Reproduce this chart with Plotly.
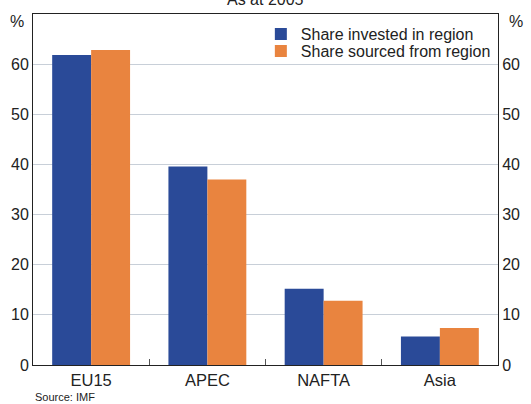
import plotly.graph_objects as go

categories = ["EU15", "APEC", "NAFTA", "Asia"]
invested = [61.8, 39.6, 15.2, 5.7]
sourced = [62.8, 37.0, 12.8, 7.4]
y_ticks = [0, 10, 20, 30, 40, 50, 60]

blue = "#2a4a98"
orange = "#e9843f"
font = "Liberation Sans, Arial, sans-serif"

fig = go.Figure()
fig.add_trace(go.Bar(x=categories, y=invested, name="Share invested in region",
                     marker=dict(color=blue, line=dict(width=0)), legend="legend"))
fig.add_trace(go.Bar(x=categories, y=sourced, name="Share sourced from region",
                     marker=dict(color=orange, line=dict(width=0)), legend="legend2"))
fig.add_trace(go.Scatter(x=categories, y=invested, yaxis="y2", mode="markers",
                         marker=dict(opacity=0), showlegend=False, hoverinfo="skip"))

leg_common = dict(xanchor="left", yanchor="middle", bgcolor="rgba(0,0,0,0)",
                  font=dict(size=16, color="#222"), borderwidth=0)

fig.update_layout(
    width=531, height=404,
    margin=dict(l=33, r=33, t=14, b=39, autoexpand=False),
    paper_bgcolor="white", plot_bgcolor="white",
    font=dict(family=font, size=16, color="#222"),
    barmode="group", bargap=0.33, bargroupgap=0,
    showlegend=True,
    legend=dict(x=0.490, y=1 - 20/351, **leg_common),
    legend2=dict(x=0.490, y=1 - 37/351, **leg_common),
    xaxis=dict(showline=True, linecolor="#222", linewidth=1, mirror=True,
               ticks="inside", tickson="boundaries", ticklen=6, tickcolor="#555",
               tickfont=dict(size=16.5), showgrid=False, automargin=False),
    yaxis=dict(range=[0, 70], tickvals=y_ticks, showgrid=True, gridcolor="#c8cfd8",
               gridwidth=1, showline=True, linecolor="#222", linewidth=1,
               ticks="", tickfont=dict(size=16), zeroline=False, automargin=False),
    yaxis2=dict(range=[0, 70], tickvals=y_ticks, overlaying="y", side="right",
                showgrid=False, showline=True, linecolor="#222", linewidth=1,
                ticks="", tickfont=dict(size=16), zeroline=False, automargin=False),
    annotations=[
        dict(text="As at 2005", xref="paper", yref="paper", x=0.5, y=1 + 14/351,
             xanchor="center", yanchor="middle", showarrow=False, font=dict(size=16)),
        dict(text="%", xref="paper", yref="paper", x=-7/465, y=1 - 8/351,
             xanchor="right", yanchor="middle", showarrow=False, font=dict(size=16)),
        dict(text="%", xref="paper", yref="paper", x=1 + 9/465, y=1 - 8/351,
             xanchor="left", yanchor="middle", showarrow=False, font=dict(size=16)),
        dict(text="Source: IMF", xref="paper", yref="paper", x=0, y=-32/351,
             xanchor="left", yanchor="middle", showarrow=False, font=dict(size=11)),
    ],
)

fig.write_html("out.html", config={"displayModeBar": False},
               post_script="document.body.style.margin='0';document.body.style.overflow='hidden';")
